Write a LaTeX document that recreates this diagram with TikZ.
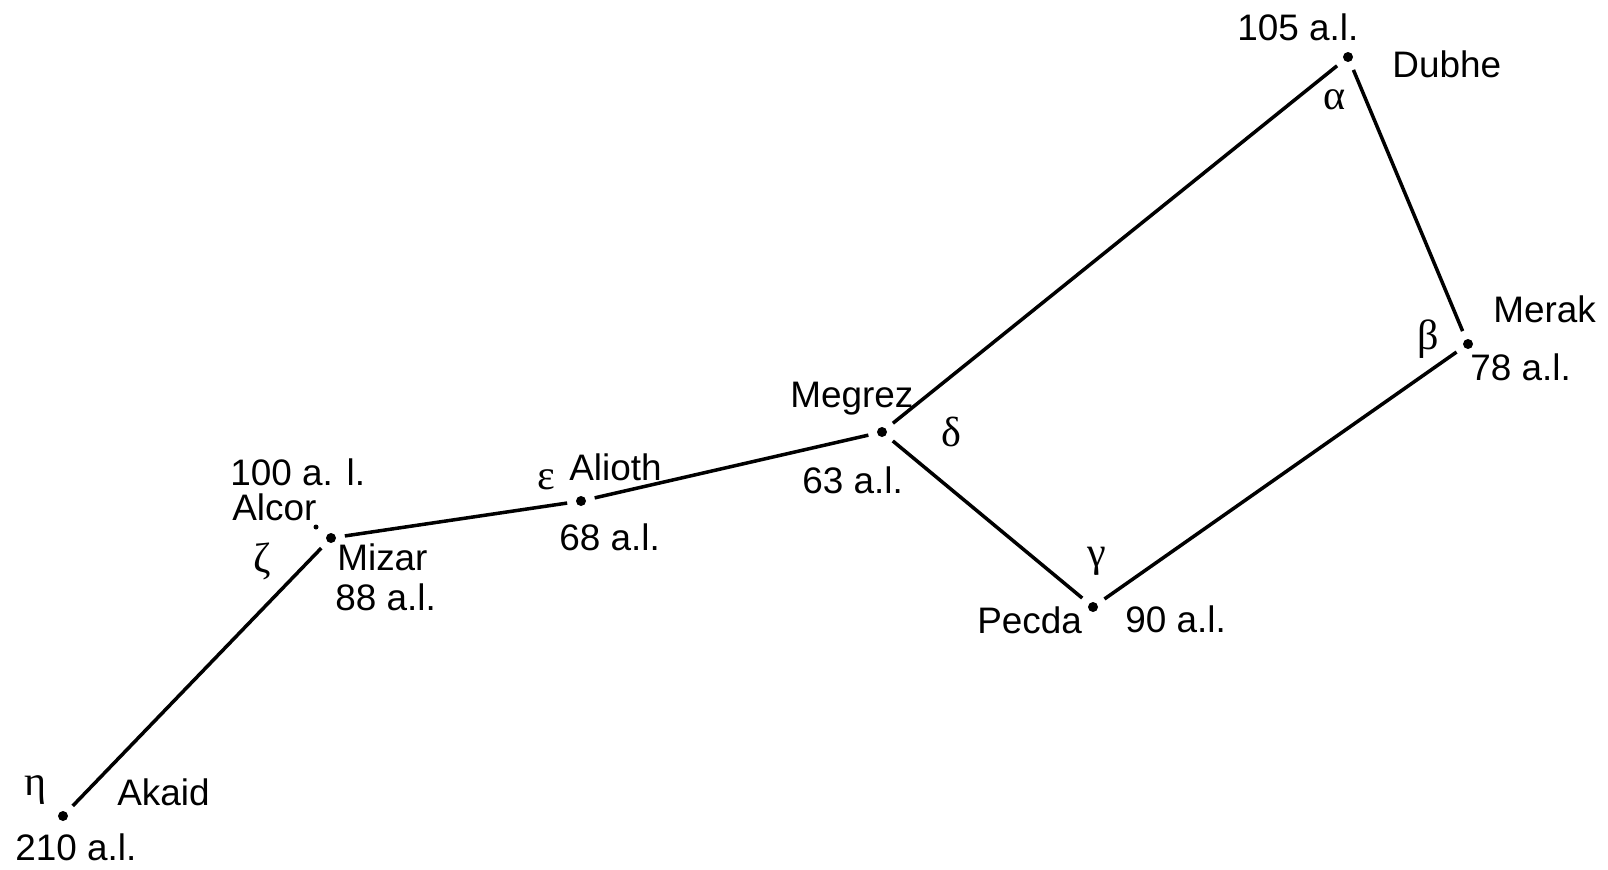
\documentclass[tikz,border=0pt]{standalone}
\usepackage{fontspec}
\setmainfont{Liberation Sans}
\newfontfamily\greekfont{Liberation Serif}

\begin{document}
\begin{tikzpicture}[x=0.02cm,y=-0.02cm,star/.style={circle,fill=black,inner sep=0pt,minimum size=0.2cm,outer sep=0.18cm},faint/.style={circle,fill=black,inner sep=0pt,minimum size=0.1cm},lbl/.style={inner sep=0pt,anchor=base west,font=\fontsize{21}{25}\selectfont},grk/.style={inner sep=0pt,font=\greekfont\fontsize{24}{28}\selectfont},link/.style={line width=2pt}] %
    \useasboundingbox (0,0) rectangle (1608,869);
    \node[star] (dubhe) at (1348,57) {} ; %
    \node[star] (merak) at (1468,344) {} ; %
    \node[star] (megrez) at (882,432) {} ; %
    \node[star] (pecda) at (1093,607) {} ; %
    \node[star] (alioth) at (581,501) {} ; %
    \node[star] (mizar) at (331,538) {} ; %
    \node[faint] (alcor) at (316,527) {} ; %
    \node[star] (akaid) at (63,816) {} ; %
    \node[lbl] (dubhe-al) at ([shift={(-111,-17)}]dubhe.center) {105 a.l.};
    \node[lbl] (dubhe-name) at ([shift={(44,20)}]dubhe.center) {Dubhe};
    \node[grk] (dubhe-gr) at ([shift={(-13,43)}]dubhe.center) {α};
    \node[lbl] (merak-name) at ([shift={(25,-22)}]merak.center) {Merak};
    \node[lbl] (merak-al) at ([shift={(2,36)}]merak.center) {78 a.l.};
    \node[grk] (merak-gr) at ([shift={(-40,-5)}]merak.center) {β};
    \node[lbl] (megrez-name) at ([shift={(-92,-25)}]megrez.center) {Megrez};
    \node[lbl] (megrez-al) at ([shift={(-80,61)}]megrez.center) {63 a.l.};
    \node[grk] (megrez-gr) at ([shift={(69,0)}]megrez.center) {δ};
    \node[lbl] (pecda-name) at ([shift={(-116,26)}]pecda.center) {Pecda};
    \node[lbl] (pecda-al) at ([shift={(32,25)}]pecda.center) {90 a.l.};
    \node[grk] (pecda-gr) at ([shift={(4,-46)}]pecda.center) {γ};
    \node[lbl] (alioth-name) at ([shift={(-12,-21)}]alioth.center) {Alioth};
    \node[lbl] (alioth-al) at ([shift={(-22,49)}]alioth.center) {68 a.l.};
    \node[grk] (alioth-gr) at ([shift={(-35,-21)}]alioth.center) {ε};
    \node[lbl] (mizar-name) at ([shift={(6,32)}]mizar.center) {Mizar};
    \node[lbl] (mizar-al) at ([shift={(4,72)}]mizar.center) {88 a.l.};
    \node[grk] (mizar-gr) at ([shift={(-69,23)}]mizar.center) {ζ};
    \node[lbl] (alcor-al) at ([shift={(-86,-42)}]alcor.center) {100 a. l.};
    \node[lbl] (alcor-name) at ([shift={(-84,-7)}]alcor.center) {Alcor};
    \node[lbl] (akaid-name) at ([shift={(54,-11)}]akaid.center) {Akaid};
    \node[lbl] (akaid-al) at ([shift={(-48,44)}]akaid.center) {210 a.l.};
    \node[grk] (akaid-gr) at ([shift={(-27,-26)}]akaid.center) {η};
    \draw[link] (akaid) -- (mizar);
    \draw[link] (mizar) -- (alioth);
    \draw[link] (alioth) -- (megrez);
    \draw[link] (megrez) -- (dubhe);
    \draw[link] (dubhe) -- (merak);
    \draw[link] (merak) -- (pecda);
    \draw[link] (pecda) -- (megrez);
  \end{tikzpicture}
\end{document}
